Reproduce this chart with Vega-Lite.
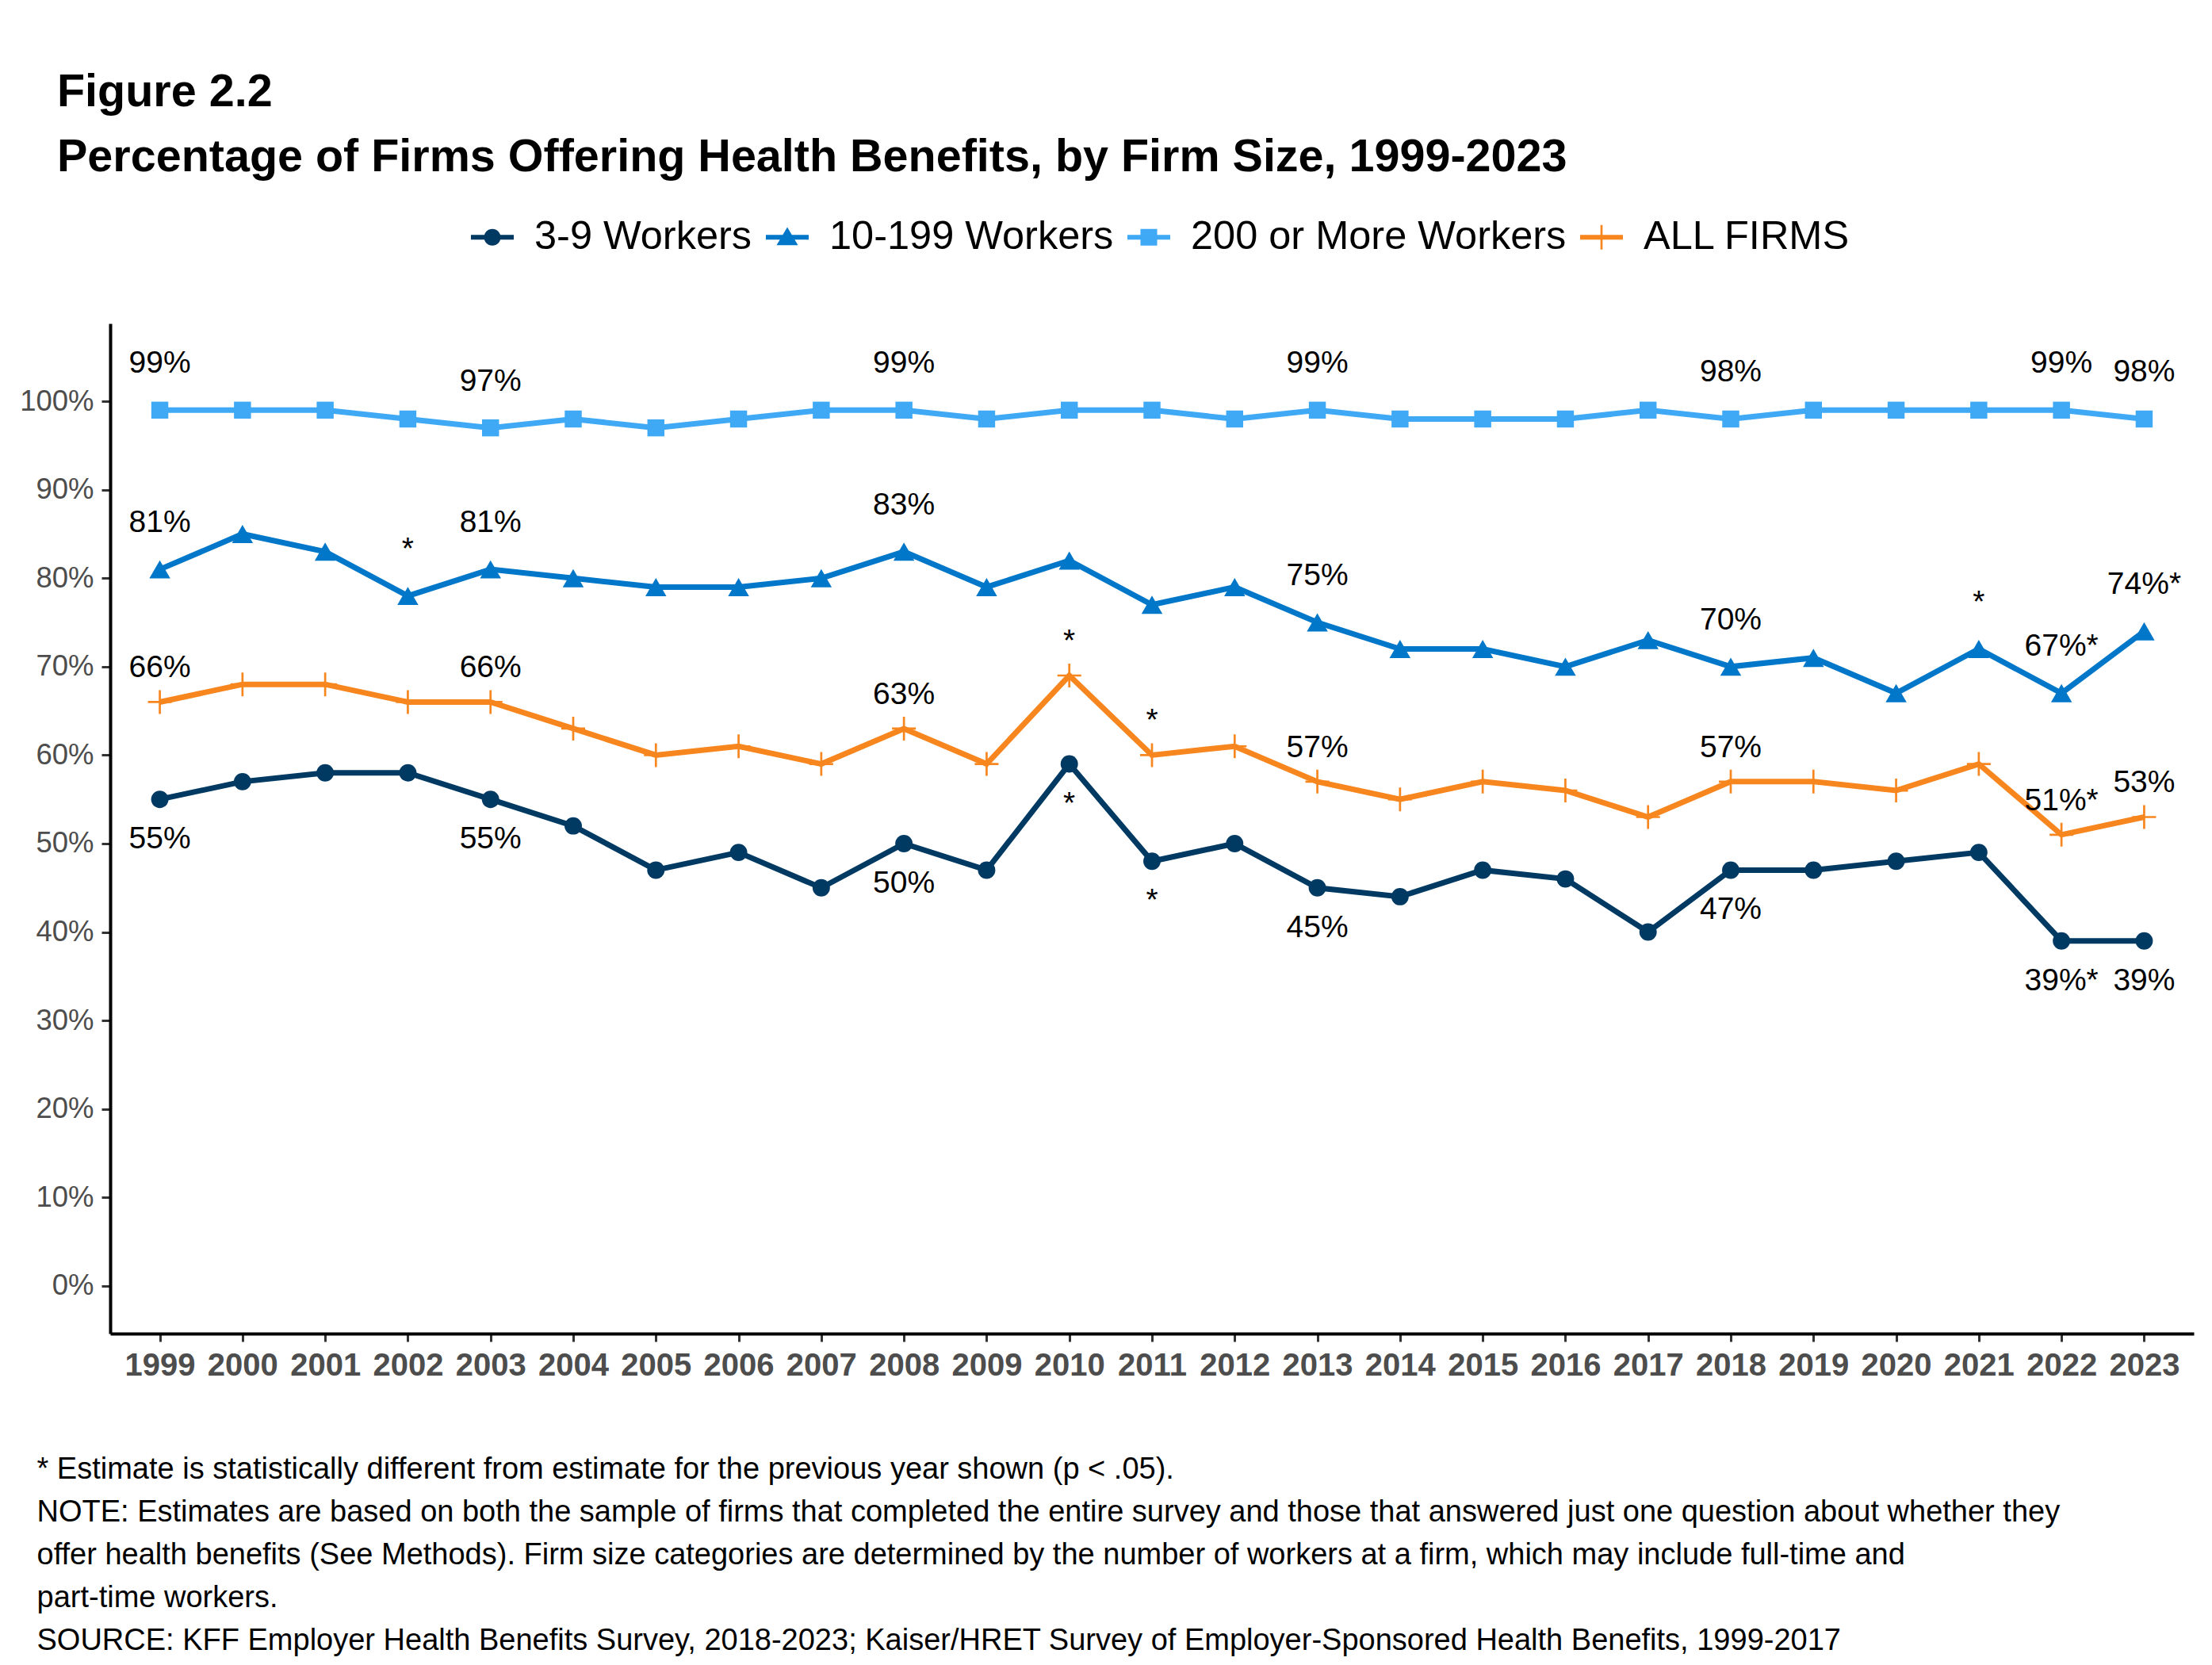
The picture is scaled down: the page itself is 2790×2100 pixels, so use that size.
{
  "$schema": "https://vega.github.io/schema/vega-lite/v6.json",
  "width": 2628,
  "height": 1274,
  "autosize": {"type": "none"},
  "padding": {"left": 139, "top": 408, "right": 23, "bottom": 418},
  "background": "white",
  "title": {
    "text": ["Figure 2.2", "Percentage of Firms Offering Health Benefits, by Firm Size, 1999-2023"],
    "anchor": "start",
    "frame": "group",
    "dx": -67,
    "fontSize": 57.5,
    "fontWeight": "bold",
    "color": "black",
    "lineHeight": 82,
    "offset": 44
  },
  "config": {
    "font": "Liberation Sans",
    "view": {"stroke": null}
  },
  "data": {
    "values": [
      {"year": 1999, "series": "3-9 Workers", "pct": 55, "label": "55%"},
      {"year": 2000, "series": "3-9 Workers", "pct": 57},
      {"year": 2001, "series": "3-9 Workers", "pct": 58},
      {"year": 2002, "series": "3-9 Workers", "pct": 58},
      {"year": 2003, "series": "3-9 Workers", "pct": 55, "label": "55%"},
      {"year": 2004, "series": "3-9 Workers", "pct": 52},
      {"year": 2005, "series": "3-9 Workers", "pct": 47},
      {"year": 2006, "series": "3-9 Workers", "pct": 49},
      {"year": 2007, "series": "3-9 Workers", "pct": 45},
      {"year": 2008, "series": "3-9 Workers", "pct": 50, "label": "50%"},
      {"year": 2009, "series": "3-9 Workers", "pct": 47},
      {"year": 2010, "series": "3-9 Workers", "pct": 59, "label": "*"},
      {"year": 2011, "series": "3-9 Workers", "pct": 48, "label": "*"},
      {"year": 2012, "series": "3-9 Workers", "pct": 50},
      {"year": 2013, "series": "3-9 Workers", "pct": 45, "label": "45%"},
      {"year": 2014, "series": "3-9 Workers", "pct": 44},
      {"year": 2015, "series": "3-9 Workers", "pct": 47},
      {"year": 2016, "series": "3-9 Workers", "pct": 46},
      {"year": 2017, "series": "3-9 Workers", "pct": 40},
      {"year": 2018, "series": "3-9 Workers", "pct": 47, "label": "47%"},
      {"year": 2019, "series": "3-9 Workers", "pct": 47},
      {"year": 2020, "series": "3-9 Workers", "pct": 48},
      {"year": 2021, "series": "3-9 Workers", "pct": 49},
      {"year": 2022, "series": "3-9 Workers", "pct": 39, "label": "39%*"},
      {"year": 2023, "series": "3-9 Workers", "pct": 39, "label": "39%"},
      {"year": 1999, "series": "10-199 Workers", "pct": 81, "label": "81%"},
      {"year": 2000, "series": "10-199 Workers", "pct": 85},
      {"year": 2001, "series": "10-199 Workers", "pct": 83},
      {"year": 2002, "series": "10-199 Workers", "pct": 78, "label": "*"},
      {"year": 2003, "series": "10-199 Workers", "pct": 81, "label": "81%"},
      {"year": 2004, "series": "10-199 Workers", "pct": 80},
      {"year": 2005, "series": "10-199 Workers", "pct": 79},
      {"year": 2006, "series": "10-199 Workers", "pct": 79},
      {"year": 2007, "series": "10-199 Workers", "pct": 80},
      {"year": 2008, "series": "10-199 Workers", "pct": 83, "label": "83%"},
      {"year": 2009, "series": "10-199 Workers", "pct": 79},
      {"year": 2010, "series": "10-199 Workers", "pct": 82},
      {"year": 2011, "series": "10-199 Workers", "pct": 77},
      {"year": 2012, "series": "10-199 Workers", "pct": 79},
      {"year": 2013, "series": "10-199 Workers", "pct": 75, "label": "75%"},
      {"year": 2014, "series": "10-199 Workers", "pct": 72},
      {"year": 2015, "series": "10-199 Workers", "pct": 72},
      {"year": 2016, "series": "10-199 Workers", "pct": 70},
      {"year": 2017, "series": "10-199 Workers", "pct": 73},
      {"year": 2018, "series": "10-199 Workers", "pct": 70, "label": "70%"},
      {"year": 2019, "series": "10-199 Workers", "pct": 71},
      {"year": 2020, "series": "10-199 Workers", "pct": 67},
      {"year": 2021, "series": "10-199 Workers", "pct": 72, "label": "*"},
      {"year": 2022, "series": "10-199 Workers", "pct": 67, "label": "67%*"},
      {"year": 2023, "series": "10-199 Workers", "pct": 74, "label": "74%*"},
      {"year": 1999, "series": "200 or More Workers", "pct": 99, "label": "99%"},
      {"year": 2000, "series": "200 or More Workers", "pct": 99},
      {"year": 2001, "series": "200 or More Workers", "pct": 99},
      {"year": 2002, "series": "200 or More Workers", "pct": 98},
      {"year": 2003, "series": "200 or More Workers", "pct": 97, "label": "97%"},
      {"year": 2004, "series": "200 or More Workers", "pct": 98},
      {"year": 2005, "series": "200 or More Workers", "pct": 97},
      {"year": 2006, "series": "200 or More Workers", "pct": 98},
      {"year": 2007, "series": "200 or More Workers", "pct": 99},
      {"year": 2008, "series": "200 or More Workers", "pct": 99, "label": "99%"},
      {"year": 2009, "series": "200 or More Workers", "pct": 98},
      {"year": 2010, "series": "200 or More Workers", "pct": 99},
      {"year": 2011, "series": "200 or More Workers", "pct": 99},
      {"year": 2012, "series": "200 or More Workers", "pct": 98},
      {"year": 2013, "series": "200 or More Workers", "pct": 99, "label": "99%"},
      {"year": 2014, "series": "200 or More Workers", "pct": 98},
      {"year": 2015, "series": "200 or More Workers", "pct": 98},
      {"year": 2016, "series": "200 or More Workers", "pct": 98},
      {"year": 2017, "series": "200 or More Workers", "pct": 99},
      {"year": 2018, "series": "200 or More Workers", "pct": 98, "label": "98%"},
      {"year": 2019, "series": "200 or More Workers", "pct": 99},
      {"year": 2020, "series": "200 or More Workers", "pct": 99},
      {"year": 2021, "series": "200 or More Workers", "pct": 99},
      {"year": 2022, "series": "200 or More Workers", "pct": 99, "label": "99%"},
      {"year": 2023, "series": "200 or More Workers", "pct": 98, "label": "98%"},
      {"year": 1999, "series": "ALL FIRMS", "pct": 66, "label": "66%"},
      {"year": 2000, "series": "ALL FIRMS", "pct": 68},
      {"year": 2001, "series": "ALL FIRMS", "pct": 68},
      {"year": 2002, "series": "ALL FIRMS", "pct": 66},
      {"year": 2003, "series": "ALL FIRMS", "pct": 66, "label": "66%"},
      {"year": 2004, "series": "ALL FIRMS", "pct": 63},
      {"year": 2005, "series": "ALL FIRMS", "pct": 60},
      {"year": 2006, "series": "ALL FIRMS", "pct": 61},
      {"year": 2007, "series": "ALL FIRMS", "pct": 59},
      {"year": 2008, "series": "ALL FIRMS", "pct": 63, "label": "63%"},
      {"year": 2009, "series": "ALL FIRMS", "pct": 59},
      {"year": 2010, "series": "ALL FIRMS", "pct": 69, "label": "*"},
      {"year": 2011, "series": "ALL FIRMS", "pct": 60, "label": "*"},
      {"year": 2012, "series": "ALL FIRMS", "pct": 61},
      {"year": 2013, "series": "ALL FIRMS", "pct": 57, "label": "57%"},
      {"year": 2014, "series": "ALL FIRMS", "pct": 55},
      {"year": 2015, "series": "ALL FIRMS", "pct": 57},
      {"year": 2016, "series": "ALL FIRMS", "pct": 56},
      {"year": 2017, "series": "ALL FIRMS", "pct": 53},
      {"year": 2018, "series": "ALL FIRMS", "pct": 57, "label": "57%"},
      {"year": 2019, "series": "ALL FIRMS", "pct": 57},
      {"year": 2020, "series": "ALL FIRMS", "pct": 56},
      {"year": 2021, "series": "ALL FIRMS", "pct": 59},
      {"year": 2022, "series": "ALL FIRMS", "pct": 51, "label": "51%*"},
      {"year": 2023, "series": "ALL FIRMS", "pct": 53, "label": "53%"}
    ]
  },
  "encoding": {
    "x": {
      "field": "year",
      "type": "quantitative",
      "scale": {"domain": [1998.4, 2023.6], "nice": false, "zero": false},
      "axis": {
        "values": [1999, 2000, 2001, 2002, 2003, 2004, 2005, 2006, 2007, 2008, 2009, 2010, 2011, 2012, 2013, 2014, 2015, 2016, 2017, 2018, 2019, 2020, 2021, 2022, 2023],
        "format": "d",
        "grid": false,
        "domainColor": "black",
        "domainWidth": 4,
        "tickColor": "#333333",
        "tickWidth": 3,
        "tickSize": 10,
        "labelFontSize": 40,
        "labelFontWeight": "bold",
        "labelColor": "#4d4d4d",
        "labelPadding": 10,
        "labelFlush": false,
        "labelOverlap": false,
        "title": [
          "* Estimate is statistically different from estimate for the previous year shown (p < .05).",
          "NOTE: Estimates are based on both the sample of firms that completed the entire survey and those that answered just one question about whether they",
          "offer health benefits (See Methods). Firm size categories are determined by the number of workers at a firm, which may include full-time and",
          "part-time workers.",
          "SOURCE: KFF Employer Health Benefits Survey, 2018-2023; Kaiser/HRET Survey of Employer-Sponsored Health Benefits, 1999-2017"
        ],
        "titleFontSize": 38,
        "titleFontWeight": "normal",
        "titleColor": "black",
        "titleAnchor": "start",
        "titleAlign": "left",
        "titleBaseline": "alphabetic",
        "titleLineHeight": 54,
        "titleX": -93,
        "titleY": 182
      }
    },
    "y": {
      "field": "pct",
      "type": "quantitative",
      "scale": {"domain": [-5.4, 108.8], "nice": false, "zero": false},
      "axis": {
        "values": [0, 10, 20, 30, 40, 50, 60, 70, 80, 90, 100],
        "labelExpr": "datum.value + '%'",
        "grid": false,
        "domainColor": "black",
        "domainWidth": 4,
        "tickColor": "#333333",
        "tickWidth": 3,
        "tickSize": 11,
        "labelFontSize": 36.5,
        "labelColor": "#4d4d4d",
        "labelPadding": 10,
        "labelFlush": false,
        "title": null
      }
    }
  },
  "layer": [
    {
      "transform": [{"filter": "datum.series == '3-9 Workers'"}],
      "layer": [
        {"mark": {"type": "line", "strokeWidth": 7, "color": "#003a63"}, "encoding": {}},
        {"mark": {"type": "point", "shape": "circle", "filled": true, "size": 480, "opacity": 1, "color": "#003a63"}}
      ]
    },
    {
      "transform": [{"filter": "datum.series == '10-199 Workers'"}],
      "layer": [
        {"mark": {"type": "line", "strokeWidth": 7, "color": "#0077c8"}, "encoding": {}},
        {"mark": {"type": "point", "shape": "triangle-up", "filled": true, "size": 700, "opacity": 1, "color": "#0077c8"}}
      ]
    },
    {
      "transform": [{"filter": "datum.series == '200 or More Workers'"}],
      "layer": [
        {"mark": {"type": "line", "strokeWidth": 7, "color": "#3fa9f5"}, "encoding": {}},
        {"mark": {"type": "point", "shape": "square", "filled": true, "size": 460, "opacity": 1, "color": "#3fa9f5"}}
      ]
    },
    {
      "transform": [{"filter": "datum.series == 'ALL FIRMS'"}],
      "layer": [
        {"mark": {"type": "line", "strokeWidth": 7, "color": "#f7861f"}, "encoding": {}},
        {"mark": {"type": "point", "shape": "M-1,0H1M0,-1V1", "filled": false, "size": 900, "strokeWidth": 2.7, "opacity": 1, "color": "#f7861f"}}
      ]
    },
    {
      "transform": [{"filter": "isValid(datum.label) && (datum.series == '10-199 Workers' || datum.series == '200 or More Workers')"}],
      "mark": {"type": "text", "align": "center", "baseline": "alphabetic", "dy": -47, "fontSize": 39, "color": "black"},
      "encoding": {"text": {"field": "label", "type": "nominal"}}
    },
    {
      "transform": [{"filter": "isValid(datum.label) && datum.series == 'ALL FIRMS'"}],
      "mark": {"type": "text", "align": "center", "baseline": "alphabetic", "dy": -31, "fontSize": 39, "color": "black"},
      "encoding": {"text": {"field": "label", "type": "nominal"}}
    },
    {
      "transform": [{"filter": "isValid(datum.label) && datum.series == '3-9 Workers'"}],
      "mark": {"type": "text", "align": "center", "baseline": "alphabetic", "dy": 62, "fontSize": 39, "color": "black"},
      "encoding": {"text": {"field": "label", "type": "nominal"}}
    },
    {
      "mark": {"type": "point", "filled": true, "opacity": 0},
      "encoding": {
        "color": {
          "field": "series",
          "type": "nominal",
          "scale": {
            "domain": ["3-9 Workers", "10-199 Workers", "200 or More Workers", "ALL FIRMS"],
            "range": ["#003a63", "#0077c8", "#3fa9f5", "#f7861f"]
          },
          "legend": {
            "orient": "none",
            "legendX": 455,
            "legendY": -136,
            "direction": "horizontal",
            "title": null,
            "symbolSize": 2916,
            "symbolOpacity": 1,
            "symbolStrokeWidth": 0,
            "labelFontSize": 50.5,
            "labelColor": "black",
            "labelLimit": 0,
            "labelOffset": 26,
            "columnPadding": 17
          }
        },
        "shape": {
          "field": "series",
          "type": "nominal",
          "scale": {
            "domain": ["3-9 Workers", "10-199 Workers", "200 or More Workers", "ALL FIRMS"],
            "range": [
              "M-1,-0.11H1V0.11H-1ZM-0.39,0A0.39,0.39,0,1,1,0.39,0A0.39,0.39,0,1,1,-0.39,0Z",
              "M-1,-0.11H1V0.11H-1ZM0,-0.47L0.5,0.37L-0.5,0.37Z",
              "M-1,-0.11H1V0.11H-1ZM-0.39,-0.39H0.39V0.39H-0.39Z",
              "M-1,-0.11H1V0.11H-1ZM-0.05,-0.57H0.05V0.57H-0.05Z"
            ]
          },
          "legend": {
            "orient": "none",
            "legendX": 455,
            "legendY": -136,
            "direction": "horizontal",
            "title": null,
            "symbolSize": 2916,
            "symbolOpacity": 1,
            "symbolStrokeWidth": 0,
            "labelFontSize": 50.5,
            "labelColor": "black",
            "labelLimit": 0,
            "labelOffset": 26,
            "columnPadding": 17
          }
        }
      }
    }
  ]
}
